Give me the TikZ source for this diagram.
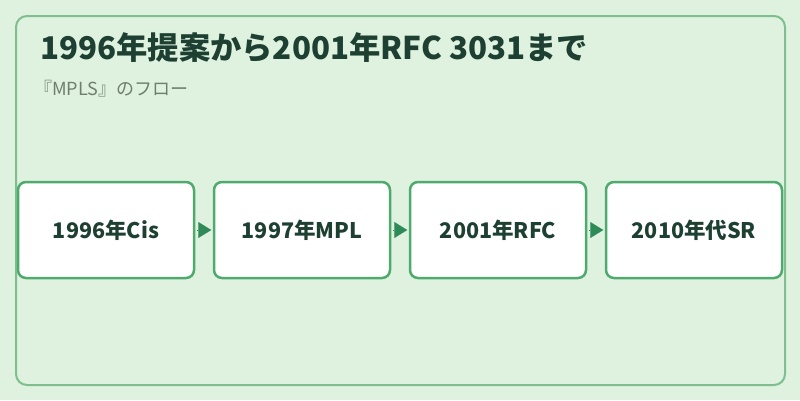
\documentclass[tikz,border=0pt]{standalone}
\usepackage{fontspec}
\setmainfont{Noto Sans CJK JP}
\usetikzlibrary{arrows.meta}
\definecolor{bgc}{HTML}{DFF2DF}
\definecolor{framec}{HTML}{7FBF8F}
\definecolor{boxc}{HTML}{4FAA6E}
\definecolor{arrc}{HTML}{2E8B57}
\definecolor{titlec}{HTML}{1D4032}
\definecolor{subc}{HTML}{6E7E70}
\tikzset{
  stepbox/.style={draw=boxc, line width=2.5pt, fill=white, rounded corners=8pt,
    minimum width=176pt, minimum height=96pt, inner sep=0pt,
    font=\fontsize{21.5pt}{24pt}\selectfont\bfseries, text=titlec},
  flow/.style={-{Triangle[length=13pt,width=16pt]}, draw=arrc, fill=arrc, line width=0.1pt, shorten >=1.5pt, shorten <=1.5pt}
}
\begin{document}
\begin{tikzpicture}[x=1pt,y=-1pt]
\useasboundingbox (0,0) rectangle (800,400);
\fill[bgc] (0,0) rectangle (800,400);
\draw[framec, line width=2pt, rounded corners=11pt] (16,16) rectangle (785,385);
\node[anchor=base west, inner sep=0pt, text=titlec, font=\fontsize{31.3pt}{34pt}\selectfont\bfseries] (title) at (40,59) {1996年提案から2001年RFC 3031まで};
\node[anchor=base west, inner sep=0pt, text=subc, font=\fontsize{18pt}{20pt}\selectfont] (sub) at (34,95) {『MPLS』のフロー};
\node[stepbox] (b1) at (106,230) {1996年Cis};
\node[stepbox] (b2) at (302,230) {1997年MPL};
\node[stepbox] (b3) at (498,230) {2001年RFC};
\node[stepbox] (b4) at (694,230) {2010年代SR};
\draw[flow] (b1.east) -- (b2.west);
\draw[flow] (b2.east) -- (b3.west);
\draw[flow] (b3.east) -- (b4.west);
\end{tikzpicture}
\end{document}
